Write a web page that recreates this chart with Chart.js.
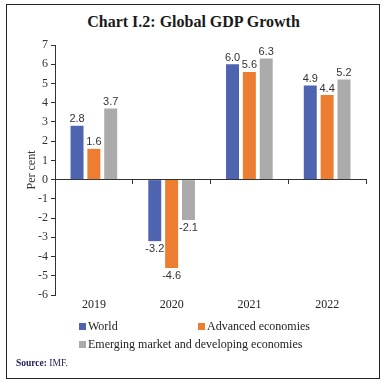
<!DOCTYPE html>
<html>
<head>
<meta charset="utf-8">
<script src="https://cdn.jsdelivr.net/npm/chart.js@4/dist/chart.umd.min.js"></script>
<style>
  body { margin: 0; background: #fff; }
  #wrap { position: relative; width: 387px; height: 387px; }
  #frame { position: absolute; left: 6px; top: 4px; width: 372px; height: 373px; border: 1.5px solid #222; }
  #title { position: absolute; left: 0; top: 13px; width: 387px; text-align: center;
           font: bold 16px "Liberation Serif", serif; color: #1a1a1a; }
  #source { position: absolute; left: 16px; top: 358px; font: 9.5px "Liberation Serif", serif; color: #23235a; }
  canvas { position: absolute; left: 0; top: 0; }
</style>
</head>
<body>
<div id="wrap">
  <div id="frame"></div>
  <div id="title">Chart I.2: Global GDP Growth</div>
  <canvas id="myChart" width="387" height="387"></canvas>
  <div id="source"><b>Source:</b> IMF.</div>
</div>
<script>
const years = ["2019", "2020", "2021", "2022"];
const world = [2.8, -3.2, 6.0, 4.9];
const advanced = [1.6, -4.6, 5.6, 4.4];
const emerging = [3.7, -2.1, 6.3, 5.2];
const yTicks = { min: -6, max: 7, step: 1 };

const serif = "'Liberation Serif', serif";

// value labels above / below each bar
const barLabels = {
  id: "barLabels",
  afterDatasetsDraw(chart) {
    const ctx = chart.ctx;
    ctx.save();
    ctx.font = "11px 'Liberation Sans', sans-serif";
    ctx.fillStyle = "#333";
    ctx.textAlign = "center";
    chart.data.datasets.forEach((ds, i) => {
      chart.getDatasetMeta(i).data.forEach((bar, j) => {
        const v = ds.data[j];
        if (v >= 0) {
          ctx.textBaseline = "bottom";
          ctx.fillText(v.toFixed(1), bar.x, bar.y - 1);
        } else {
          ctx.textBaseline = "top";
          ctx.fillText(v.toFixed(1), bar.x, bar.y + 2);
        }
      });
    });
    ctx.restore();
  }
};

// two-column legend under the chart
const sideLegend = {
  id: "sideLegend",
  afterDraw(chart) {
    const ctx = chart.ctx;
    const spots = [[79, 327], [198, 327], [79, 345]];
    ctx.save();
    ctx.font = "12px " + serif;
    ctx.textBaseline = "middle";
    chart.data.datasets.forEach((ds, i) => {
      const [x, y] = spots[i];
      ctx.fillStyle = ds.backgroundColor;
      ctx.fillRect(x, y - 4, 7, 7);
      ctx.fillStyle = "#222";
      ctx.fillText(ds.label, x + 9, y);
    });
    ctx.restore();
  }
};

new Chart(document.getElementById("myChart"), {
  type: "bar",
  data: {
    labels: years,
    datasets: [
      { label: "World", data: world, backgroundColor: "#4E64B1" },
      { label: "Advanced economies", data: advanced, backgroundColor: "#ED7D31" },
      { label: "Emerging market and developing economies", data: emerging, backgroundColor: "#ABABAB" }
    ]
  },
  options: {
    responsive: false,
    animation: false,
    layout: { padding: { top: 45, right: 21, left: 0, bottom: 0 } },
    datasets: { bar: { categoryPercentage: 0.65, barPercentage: 0.77 } },
    plugins: {
      legend: { display: false },
      tooltip: { enabled: false }
    },
    scales: {
      x: {
        grid: { display: false, drawTicks: false, tickLength: 0 },
        border: { display: false },
        ticks: { color: "#222", font: { family: serif, size: 12 }, padding: 3 },
        afterFit(scale) { scale.height = 92; }
      },
      x0: {
        type: "category",
        labels: years,
        position: { y: 0 },
        offset: true,
        grid: { offset: true, drawOnChartArea: false, drawTicks: true, tickLength: 4, color: "#333" },
        border: { display: true, color: "#333", width: 1 },
        ticks: { display: false }
      },
      y: {
        min: yTicks.min,
        max: yTicks.max,
        ticks: { stepSize: yTicks.step, color: "#333", font: { family: serif, size: 12 }, padding: 3 },
        grid: { drawOnChartArea: false, drawTicks: true, tickLength: 4, color: "#333" },
        border: { color: "#333" },
        title: { display: true, text: "Per cent", color: "#333", font: { family: serif, size: 12 }, padding: { top: 25, bottom: 0 } },
        afterFit(scale) { scale.width = 55; }
      }
    }
  },
  plugins: [barLabels, sideLegend]
});
</script>
</body>
</html>
